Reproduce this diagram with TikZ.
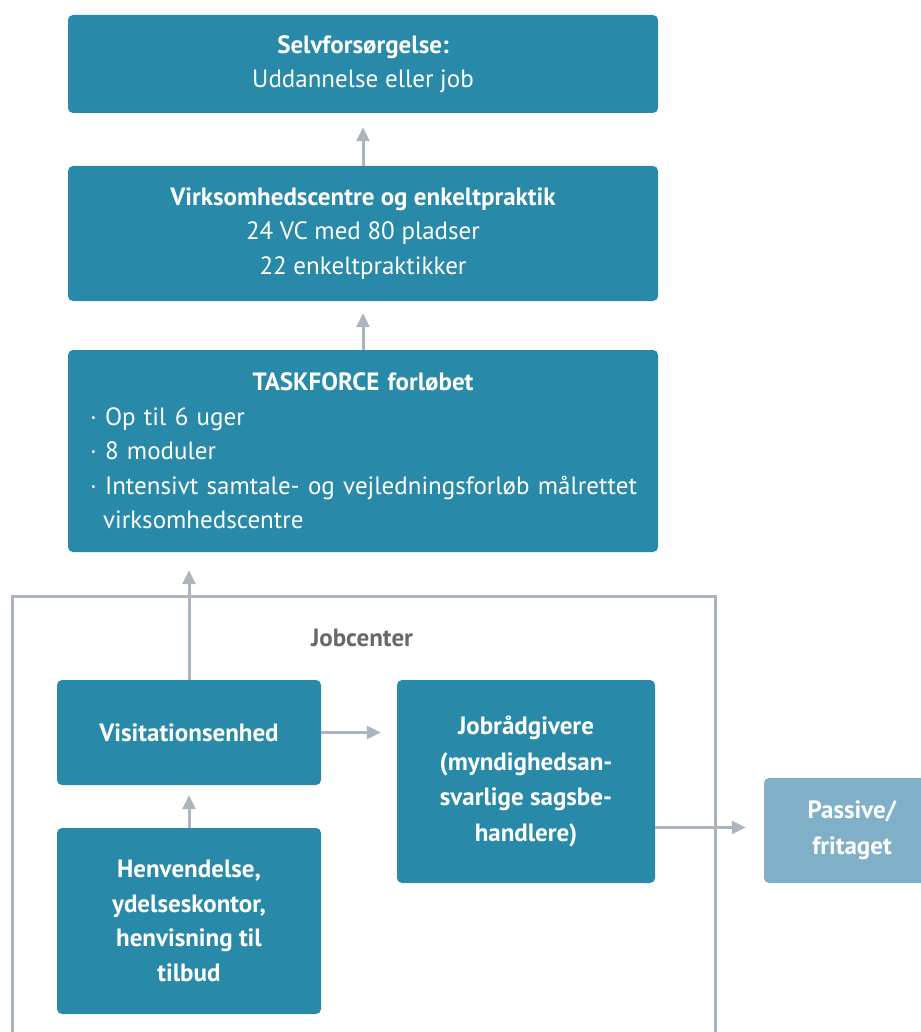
\documentclass[tikz,border=0pt]{standalone}
\usepackage{fontspec}
\setmainfont{PT Sans}
\usetikzlibrary{arrows.meta}
\definecolor{boxblue}{RGB}{40,137,168}
\definecolor{paleblue}{RGB}{127,176,200}
\definecolor{linegray}{RGB}{172,181,189}
\definecolor{labelgray}{RGB}{105,105,105}

\begin{document}
\begin{tikzpicture}[x=1pt,y=-1pt,
  box/.style={fill=boxblue, text=white, rounded corners=5pt, inner sep=0pt,
    align=center, font=\fontsize{25}{34.5}\selectfont},
  palebox/.style={box, fill=paleblue},
  flow/.style={draw=linegray, line width=3pt, -{Triangle[length=14pt,width=13pt]}},
  frame/.style={draw=linegray, line width=3pt},
]
\useasboundingbox (0,0) rectangle (920,1032);

% upper chain
\node[box, minimum width=590pt, minimum height=98pt] (goal) at (363,64)
  {\textbf{Selvforsørgelse:}\\Uddannelse eller job};
\node[box, minimum width=590pt, minimum height=135pt] (vc) at (363,233.5)
  {\textbf{Virksomhedscentre og enkeltpraktik}\\24 VC med 80 pladser\\22 enkeltpraktikker};
\node[box, minimum width=590pt, minimum height=202pt, text width=546pt, align=left] (tf) at (363,451)
  {{\centering\textbf{TASKFORCE forløbet}\par}
   \raggedright
   \mbox{·\ Op til 6 uger}\\
   \mbox{·\ 8 moduler}\\
   \mbox{·\ Intensivt samtale- og vejledningsforløb målrettet}\\
   \mbox{\hspace*{13pt}virksomhedscentre}};

% jobcenter frame, open at the bottom
\draw[frame] (12,1045) -- (12,596) -- (715,596) -- (715,1045);
\node[text=labelgray, font=\fontsize{25}{28}\selectfont\bfseries] (jclabel) at (362,638) {Jobcenter};

\node[box, minimum width=264pt, minimum height=105pt] (vis) at (189,732.5)
  {\textbf{Visitationsenhed}};
\node[box, minimum width=264pt, minimum height=186pt] (henv) at (189,921)
  {\textbf{Henvendelse,}\\\textbf{ydelseskontor,}\\\textbf{henvisning til}\\\textbf{tilbud}};
\node[box, minimum width=258pt, minimum height=203pt, font=\fontsize{25}{35.5}\selectfont] (jr) at (526,781.5)
  {\textbf{Jobrådgivere}\\\textbf{(myndighedsan-}\\\textbf{svarlige sagsbe-}\\\textbf{handlere)}};
\node[palebox, minimum width=176pt, minimum height=105pt, font=\fontsize{25}{36}\selectfont] (pas) at (852,830.5)
  {\textbf{Passive/}\\\textbf{fritaget}};

% connectors
\draw[flow] (vc.north) -- ([yshift=-14pt]goal.south);
\draw[flow] (tf.north) -- ([yshift=-12pt]vc.south);
\draw[flow] (vis.north) -- ([yshift=-18pt]vis.north |- tf.south);
\draw[flow] (henv.north) -- ([yshift=-10pt]vis.south);
\draw[flow] (vis.east) -- ([xshift=-16pt]vis.east -| jr.west);
\coordinate (pasin) at ([xshift=-18pt,yshift=3pt]pas.west);
\draw[flow] (jr.east |- pasin) -- (pasin);
\end{tikzpicture}
\end{document}
